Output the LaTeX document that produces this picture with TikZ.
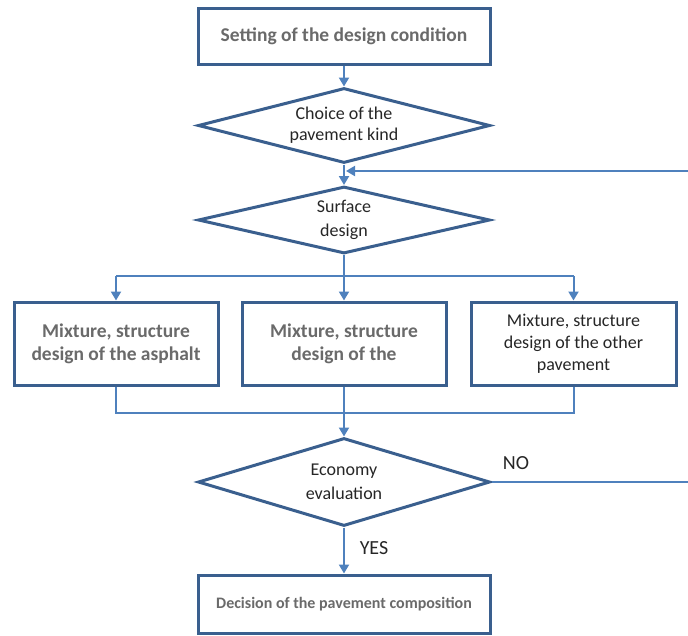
\documentclass[tikz,border=0pt]{standalone}
\usepackage{fontspec}
\setmainfont{Carlito}
\usetikzlibrary{shapes.geometric,arrows.meta}
\definecolor{boxblue}{HTML}{3A5F8E}
\definecolor{linkblue}{HTML}{4F81BD}
\definecolor{shadowtext}{HTML}{6A6A6A}
\begin{document}
\begin{tikzpicture}[x=1pt,y=-1pt,
  font=\fontsize{18}{22}\selectfont,
  box/.style={draw=boxblue, line width=3pt, fill=white, inner sep=0pt, align=center},
  dia/.style={diamond, draw=boxblue, line width=3pt, fill=white, inner sep=0pt, align=center, text=black!85},
  conn/.style={draw=linkblue, line width=2pt},
  arr/.style={conn, -{Triangle[length=9pt,width=10pt]}},
  greytext/.style={text=shadowtext, font=\fontsize{19.5}{23}\selectfont\bfseries},
  plaintext/.style={text=black!85, font=\fontsize{18}{22}\selectfont}]
\useasboundingbox (0,0) rectangle (688,635);

\node[box, minimum width=292, minimum height=56, greytext] (setting) at (344,36) {Setting of the design condition};
\node[dia, minimum width=292, minimum height=75, shape aspect=3.9, font=\fontsize{18}{21}\selectfont] (choice) at (344,125.5) {Choice of the\\pavement kind};
\node[dia, minimum width=292, minimum height=67, shape aspect=4.3, font=\fontsize{18}{24}\selectfont] (surface) at (344,220) {Surface\\design};

\node[box, minimum width=204, minimum height=83, greytext] (asphalt) at (116,343.5) {Mixture, structure\\design of the asphalt};
\node[box, minimum width=204, minimum height=83, greytext] (middle) at (344,343.5) {Mixture, structure\\design of the};
\node[box, minimum width=205, minimum height=83, plaintext] (other) at (573.5,343.5) {Mixture, structure\\design of the other\\pavement};

\node[dia, minimum width=292, minimum height=88, shape aspect=3.3, font=\fontsize{18}{24}\selectfont] (econ) at (344,482) {Economy\\evaluation};
\node[box, minimum width=292, minimum height=58, text=shadowtext, font=\fontsize{16}{19}\selectfont\bfseries] (decision) at (344,604) {Decision of the pavement composition};

\node[plaintext, font=\fontsize{20}{24}\selectfont] (no) at (516,463) {NO};
\node[plaintext, font=\fontsize{20}{24}\selectfont] (yes) at (374,548) {YES};

\coordinate (fbin) at (688,171);
\coordinate (fbjoin) at (346,171);
\coordinate (split) at (344,276);
\coordinate (merge) at (344,413);
\coordinate (noout) at (688,482);

\draw[arr] (setting.south) -- (choice.north);
\draw[arr] (choice.south) -- (surface.north);
\draw[arr] (fbin) -- (fbjoin);
\draw[conn] (surface.south) -- (split);
\draw[conn] (asphalt.north |- split) -- (other.north |- split);
\draw[arr] (asphalt.north |- split) -- (asphalt.north);
\draw[arr] (split) -- (middle.north);
\draw[arr] (other.north |- split) -- (other.north);
\draw[conn] (asphalt.south) -- (asphalt.south |- merge) -- (other.south |- merge) -- (other.south);
\draw[conn] (middle.south) -- (merge);
\draw[arr] (merge) -- (econ.north);
\draw[conn] (econ.east) -- (noout);
\draw[arr] (econ.south) -- (decision.north);
\end{tikzpicture}
\end{document}
